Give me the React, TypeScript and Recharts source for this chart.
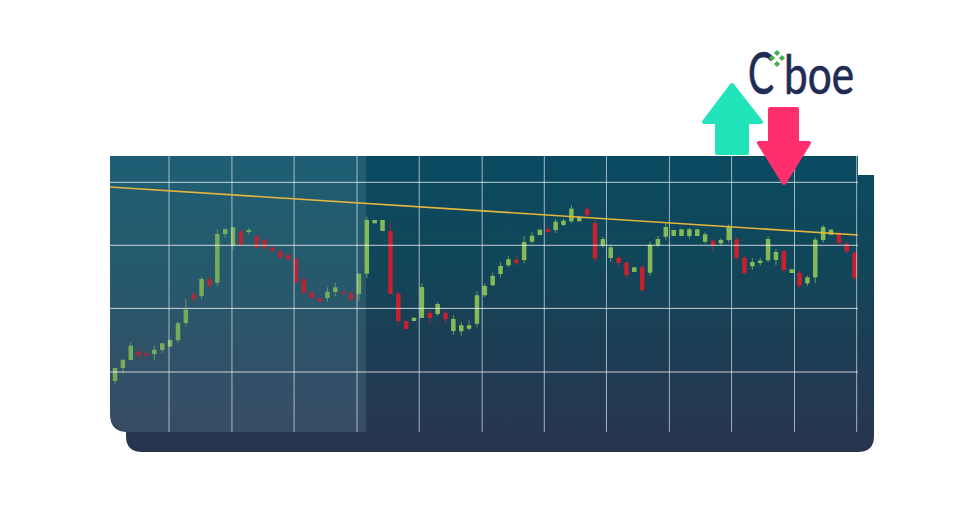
import { ComposedChart, Bar, XAxis, YAxis, ReferenceArea, ReferenceLine } from "recharts";

const opens = [51, 64, 72, 80.3, 78.7, 78, 82, 85.3, 91.7, 109, 137.7, 136, 153, 149.3, 198, 186.3, 200.7, 200, 195.7, 192, 184.7, 181, 177.3, 172.7, 153, 139.7, 134, 134, 140, 140.3, 138.7, 138, 158.3, 208.7, 201, 201, 138.3, 111, 111, 114, 119, 118, 119, 101, 100.7, 103.3, 108.3, 136.7, 146.7, 158, 166.7, 172.3, 172, 190.3, 197, 202.7, 202, 207, 210.7, 210.7, 223, 209, 186.3, 174, 174.3, 169.3, 160, 164.7, 159.3, 186.7, 195.3, 196, 196, 196, 196, 190.3, 191.3, 188.7, 192, 192.7, 174.3, 165.7, 169, 171.7, 172, 181, 159, 159, 148.7, 154.7, 192, 197.3, 198.3, 188.3, 179.3];
const closes = [64, 72.3, 86.3, 76.7, 76.7, 82.3, 88.7, 92, 109, 122.3, 133, 153, 146, 198, 203, 204.7, 186.7, 202, 184.3, 184.3, 180.7, 174.3, 172.3, 149.3, 139, 134, 130.3, 140.3, 144.7, 138.3, 132, 158.3, 212, 212, 212, 138, 111, 103, 114.3, 145, 114, 128, 112.7, 113, 106.7, 106.7, 136.7, 146, 156, 166, 172.7, 169, 190, 196.3, 202.3, 200.3, 210.3, 211.3, 223.3, 215.3, 216.7, 173.7, 193, 184.7, 169, 156.7, 164.7, 142, 187.3, 193, 205, 202, 202.7, 202.7, 202.7, 197.7, 186, 192, 205.3, 174.3, 159, 170, 171.3, 193, 180, 162, 162.7, 146.3, 154.7, 192.3, 205, 202.3, 188.7, 180.7, 154.3];
const highs = [64, 72.3, 89.7, 84, 80.7, 86.7, 88.7, 92.7, 110.7, 133, 140, 155.3, 154.7, 202.7, 203, 205.3, 202.7, 204, 197.7, 194.7, 184.7, 182.7, 177.3, 175.3, 155, 140, 134, 144.7, 149.3, 140.7, 140.7, 159.3, 215.3, 212, 212, 209.3, 140.7, 111, 114.3, 148.7, 122, 130, 121.7, 116.7, 110, 111.7, 140.7, 148.3, 159.3, 169.7, 176, 177, 196, 200, 202.7, 206.7, 213, 213, 227, 215.3, 225.3, 212.7, 195.3, 187.7, 176.3, 170.7, 164.7, 167, 190.7, 196, 208.3, 202, 203.3, 204.3, 202.7, 199.7, 193.3, 194, 207.7, 194.3, 176.3, 173.7, 174, 195.7, 182.7, 181.7, 162.7, 161.7, 156.3, 194.7, 207, 203, 200.7, 190.3, 181];
const lows = [48, 58, 72, 73, 75, 72, 79, 85.3, 89, 105.7, 128.7, 133, 143.7, 146, 194.3, 182, 186, 197.7, 183.3, 181, 180.3, 172.3, 172.3, 148.7, 137, 134, 130.3, 130, 136, 138, 130.7, 131.3, 154, 208.7, 201, 138, 106.3, 103, 111, 114, 109, 116, 108, 97, 96.3, 101.7, 105, 135, 146, 154.3, 165, 166.3, 168.7, 188.7, 196.7, 198.3, 199, 206, 209, 210.7, 215.3, 170, 184, 170, 165, 153.7, 160, 139.3, 156.7, 184.7, 192.3, 196, 196, 193.3, 196, 188.3, 181, 186.7, 189.3, 171.7, 157, 162.3, 166.3, 170, 167, 159.3, 159, 144, 146, 148.7, 189.7, 197.3, 188.7, 178.7, 151];

const gridSessions = [6.9, 14.9, 22.8, 30.8, 38.7, 46.7, 54.6, 62.5, 70.5, 78.4, 86.4, 94.3];
const gridLevels = [60, 123.6, 186.7, 249.7];
const trendLevels = [245, 197];
const sessionRange = [-0.6, 94.47];
const levelRange = [0, 276];
const highlightEnd = 31.94;

const data = opens.map((open, i) => ({ session: i, open, close: closes[i], high: highs[i], low: lows[i] }));

function Candle(props: any) {
  const { x, y, width, height, payload } = props;
  const { open, close, high, low } = payload;
  const perUnit = height / (high - low);
  const top = y + (high - Math.max(open, close)) * perUnit;
  const bodyHeight = Math.max(Math.abs(open - close) * perUnit, 1);
  const color = close >= open ? "#84bb58" : "#c8202f";
  const mid = x + width / 2;
  return (
    <g opacity={payload.session < highlightEnd ? 0.85 : 1}>
      <line x1={mid} x2={mid} y1={y} y2={y + height} stroke={color} strokeWidth={1} strokeOpacity={0.75} />
      <rect x={x} y={top} width={width} height={bodyHeight} fill={color} />
    </g>
  );
}

function Panels() {
  return (
    <svg width={970} height={512} style={{ position: "absolute", left: 0, top: 0 }}>
      <defs>
        <linearGradient id="panelFill" gradientUnits="userSpaceOnUse" x1="0" y1="156" x2="0" y2="452">
          <stop offset="0" stopColor="#0a4a61" />
          <stop offset="0.35" stopColor="#114659" />
          <stop offset="1" stopColor="#29344f" />
        </linearGradient>
      </defs>
      <path d="M126 175 H874 V436 Q874 452 858 452 H142 Q126 452 126 436 Z" fill="url(#panelFill)" />
      <path d="M110 156 H858 V432 H128 Q110 432 110 414 Z" fill="url(#panelFill)" />
    </svg>
  );
}

function Marks() {
  const diamonds = [[777, 53], [782, 58], [772, 58], [777, 64]];
  return (
    <svg width={970} height={512} style={{ position: "absolute", left: 0, top: 0 }}>
      <path d="M732 85 L704 122 H717 V153 H747 V122 H761 Z" fill="#22e4bb" stroke="#22e4bb" strokeWidth={4} strokeLinejoin="round" />
      <path d="M770 109 H797 V143 H809 L784 183 L759 143 H770 Z" fill="#ff2f6d" stroke="#ff2f6d" strokeWidth={4} strokeLinejoin="round" />
      <text x={748} y={94} fontFamily="Lato" fontSize={58} fill="#1f2d55" stroke="#1f2d55" strokeWidth={0.7} textLength={26} lengthAdjust="spacingAndGlyphs">C</text>
      <text x={784} y={94} fontFamily="Lato" fontSize={54} fill="#1f2d55" stroke="#1f2d55" strokeWidth={0.7} textLength={70} lengthAdjust="spacingAndGlyphs">boe</text>
      {diamonds.map(([cx, cy], i) => (
        <rect key={i} x={cx - 2.2} y={cy - 2.2} width={4.4} height={4.4} fill="#45b04a" transform={`rotate(45 ${cx} ${cy})`} />
      ))}
    </svg>
  );
}

export default function App() {
  return (
    <div style={{ position: "absolute", left: 0, top: 0, width: 970, height: 512, background: "#fff", overflow: "hidden" }}>
      <Panels />
      <div style={{ position: "absolute", left: 0, top: 0 }}>
        <ComposedChart width={970} height={512} data={data} margin={{ top: 156, right: 112, bottom: 80, left: 110 }}>
          <XAxis
            type="number"
            dataKey="session"
            domain={sessionRange}
            ticks={gridSessions}
            interval={0}
            height={0}
            axisLine={false}
            tickLine={false}
            tick={false}
            allowDataOverflow
          />
          <YAxis
            type="number"
            domain={levelRange}
            ticks={gridLevels}
            interval={0}
            width={0}
            axisLine={false}
            tickLine={false}
            tick={false}
            allowDataOverflow
          />
          {gridSessions.map((s) => (
            <ReferenceLine key={`v${s}`} x={s} stroke="#ffffff" strokeOpacity={0.6} strokeWidth={1} />
          ))}
          {gridLevels.map((l) => (
            <ReferenceLine key={`h${l}`} y={l} stroke="#ffffff" strokeOpacity={0.75} strokeWidth={1} />
          ))}
          <ReferenceLine
            segment={[
              { x: sessionRange[0], y: trendLevels[0] },
              { x: sessionRange[1], y: trendLevels[1] },
            ]}
            stroke="#e6b53c"
            strokeWidth={1.6}
          />
          <Bar dataKey={(d: any) => [d.low, d.high]} barSize={4.5} shape={<Candle />} isAnimationActive={false} />
          <ReferenceArea
            x1={sessionRange[0]}
            x2={highlightEnd}
            y1={levelRange[0]}
            y2={levelRange[1]}
            fill="#b8f0ff"
            fillOpacity={0.12}
            stroke="none"
            radius={[0, 0, 0, 18]}
          />
        </ComposedChart>
      </div>
      <Marks />
    </div>
  );
}
